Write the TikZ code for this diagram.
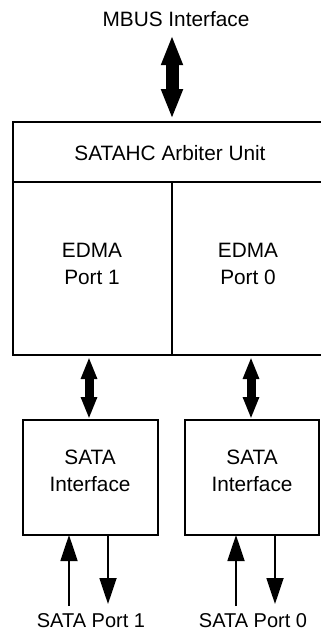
\documentclass[tikz,border=0pt]{standalone}
\usepackage{fontspec}
\setmainfont{Liberation Sans}
\usetikzlibrary{arrows.meta}

\tikzset{
  unitbox/.style={draw, line width=1.8pt, inner sep=0pt, outer sep=0pt},
  txt/.style={inner sep=0pt, outer sep=0pt, align=center,
    font=\fontsize{20.8}{27}\selectfont},
  porttxt/.style={txt, font=\fontsize{20}{27}\selectfont},
  busarrow/.style={line width=13pt,
    {Triangle[width=20pt,length=30pt]}-{Triangle[width=20pt,length=30pt]}},
  portarrow/.style={line width=9pt,
    {Triangle[width=15pt,length=22pt]}-{Triangle[width=15pt,length=22pt]}},
  linkarrow/.style={line width=1.8pt, -{Triangle[width=17pt,length=26pt]}}
}

\begin{document}
\begin{tikzpicture}[x=1pt, y=-1pt]
  \useasboundingbox (0,0) rectangle (321,634);
  \clip (0,0) rectangle (321,634);

  % host controller block (runs off the right edge)
  \node[unitbox, minimum width=322pt, minimum height=60pt] (arb) at (174,152) {};
  \node[unitbox, minimum width=159pt, minimum height=173pt] (edma1) at (92.5,268.5) {};
  \node[unitbox, minimum width=163pt, minimum height=173pt] (edma0) at (253.5,268.5) {};

  % SATA interface blocks
  \node[unitbox, minimum width=135pt, minimum height=115pt] (sata1) at (90.5,477.5) {};
  \node[unitbox, minimum width=134pt, minimum height=115pt] (sata0) at (252,477.5) {};

  % labels
  \node[txt, anchor=base] (mbus) at (176,27) {MBUS Interface};
  \node[txt, anchor=base] (arbtxt) at (170,160) {SATAHC Arbiter Unit};
  \node[txt] (edma1txt) at (92,263.75) {EDMA\\Port 1};
  \node[txt] (edma0txt) at (248,263.75) {EDMA\\Port 0};
  \node[txt] (sata1txt) at (90,471.25) {SATA\\Interface};
  \node[txt] (sata0txt) at (252,471.25) {SATA\\Interface};
  \node[porttxt, anchor=base] (port1) at (91,627) {SATA Port 1};
  \node[porttxt, anchor=base] (port0) at (253,627) {SATA Port 0};

  % free ends of the serial links
  \coordinate (p1rx) at (69,606);
  \coordinate (p1tx) at (108,604);
  \coordinate (p0rx) at (236,606);
  \coordinate (p0tx) at (275,604);

  % bus connections
  \draw[busarrow, shorten <=8pt, shorten >=3pt] (mbus.south -| 172,0) -- (arb.north -| 172,0);
  \draw[portarrow, shorten <=2pt, shorten >=1pt] (edma1.south -| 89,0) -- (sata1.north -| 89,0);
  \draw[portarrow, shorten <=2pt, shorten >=1pt] (edma0.south -| 251,0) -- (sata0.north -| 251,0);

  % serial links
  \draw[linkarrow] (p1rx) -- (p1rx |- sata1.south);
  \draw[linkarrow] (p1tx |- sata1.south) -- (p1tx);
  \draw[linkarrow] (p0rx) -- (p0rx |- sata0.south);
  \draw[linkarrow] (p0tx |- sata0.south) -- (p0tx);
\end{tikzpicture}
\end{document}
